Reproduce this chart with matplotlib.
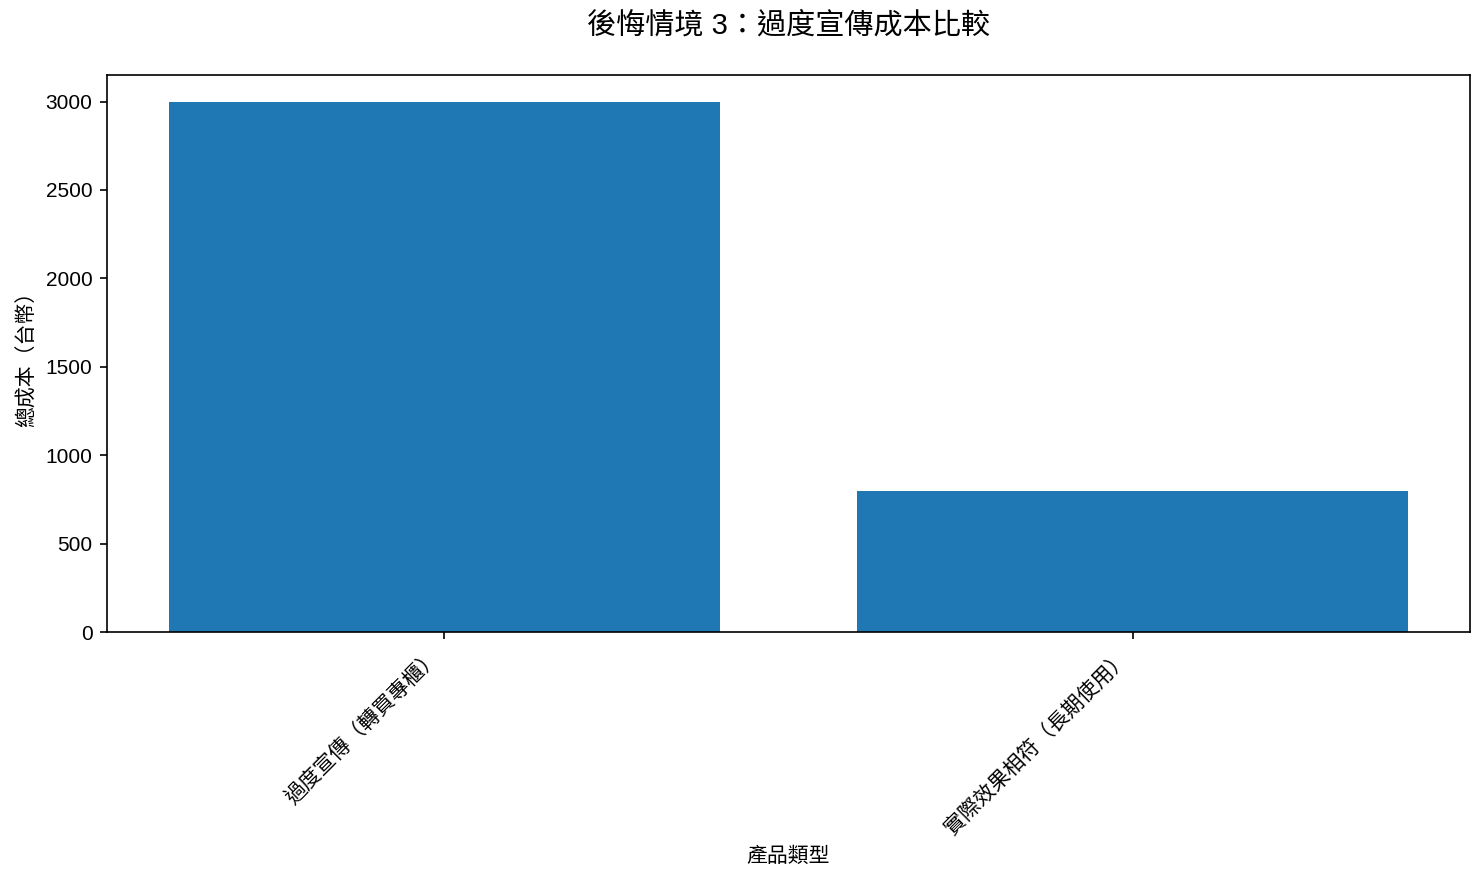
import matplotlib
matplotlib.use('Agg')
import matplotlib.pyplot as plt

plt.rcParams['font.family'] = ['Liberation Sans', 'Noto Sans CJK TC', 'DejaVu Sans']

# === Data ===
categories = ['過度宣傳（轉買專櫃）', '實際效果相符（長期使用）']
total_cost = [3000, 800]

title = '後悔情境 3：過度宣傳成本比較'
x_label = '產品類型'
y_label = '總成本（台幣）'

# === Plot ===
fig = plt.figure(figsize=(1484 / 150, 882 / 150), dpi=150)
ax = fig.add_axes([107 / 1484, 1 - 632 / 882, (1470 - 107) / 1484, (632 - 75) / 882])

ax.bar(categories, total_cost, color='#1f77b4', width=0.8)
ax.set_title(title, fontsize=14, pad=20)
ax.set_xlabel(x_label, fontsize=10)
ax.set_ylabel(y_label, fontsize=10)
ax.tick_params(labelsize=10)
plt.setp(ax.get_xticklabels(), rotation=45, ha='right')

fig.savefig('out.png', dpi=150)
